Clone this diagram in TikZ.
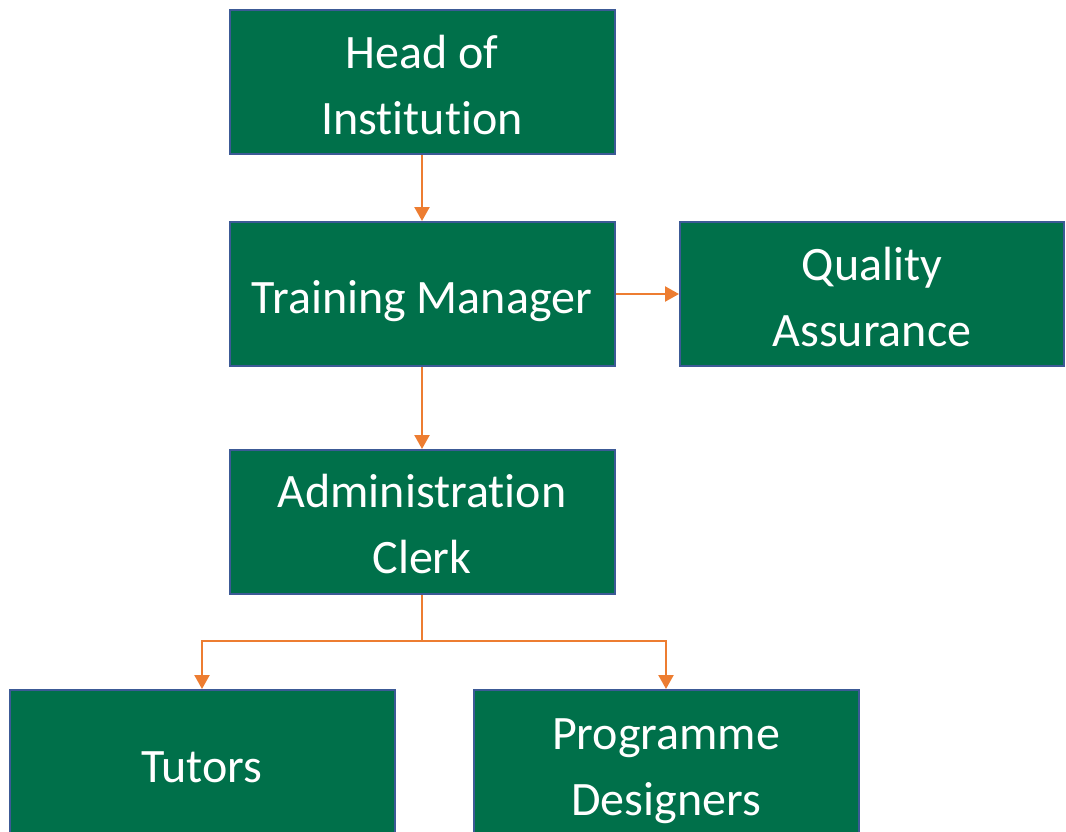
\documentclass[tikz,border=0pt]{standalone}
\usepackage{fontspec}
\setmainfont[Ligatures=NoCommon]{Carlito}
\usetikzlibrary{arrows.meta}
\definecolor{boxgreen}{HTML}{00704A}
\definecolor{boxborder}{HTML}{3C5A96}
\definecolor{linkorange}{HTML}{ED7D31}
\begin{document}
\begin{tikzpicture}[x=1pt,y=-1pt,
  orgbox/.style={draw=boxborder,line width=2pt,fill=boxgreen,
    minimum width=385pt,minimum height=144pt,inner sep=0pt},
  txt/.style={text=white,anchor=base,inner sep=0pt,font=\fontsize{48}{60}\selectfont},
  link/.style={draw=linkorange,line width=2.3pt,-{Triangle[width=15pt,length=14pt]}}]
\useasboundingbox (0,0) rectangle (1066,831);
\node[orgbox] (head) at (422,82) {};
\node[orgbox] (tm) at (422,294) {};
\node[orgbox,minimum width=384pt] (qa) at (872,294) {};
\node[orgbox] (ac) at (422,522) {};
\node[orgbox,minimum height=156pt] (tu) at (202,768) {};
\node[orgbox,minimum height=156pt] (pd) at (666,768) {};
\node[txt] (headA) at ([yshift=14pt]head.center) {Head of};
\node[txt] (headB) at ([yshift=-52pt]head.center) {Institution};
\node[txt] (tmA) at ([yshift=-19pt]tm.center) {Training Manager};
\node[txt] (qaA) at ([yshift=14pt]qa.center) {Quality};
\node[txt] (qaB) at ([yshift=-52pt]qa.center) {Assurance};
\node[txt] (acA) at ([yshift=15pt]ac.center) {Administration};
\node[txt] (acB) at ([yshift=-51pt]ac.center) {Clerk};
\node[txt] (tuA) at (202,782) {Tutors};
\node[txt] (pdA) at (666,749) {Programme};
\node[txt] (pdB) at (666,815) {Designers};
\coordinate (split) at (422,641);
\draw[link] (head) -- (tm);
\draw[link] (tm) -- (qa);
\draw[link] (tm) -- (ac);
\draw[link] (ac.south) -- (split) -| (tu.north);
\draw[link] (split) -| (pd.north);
\end{tikzpicture}
\end{document}
